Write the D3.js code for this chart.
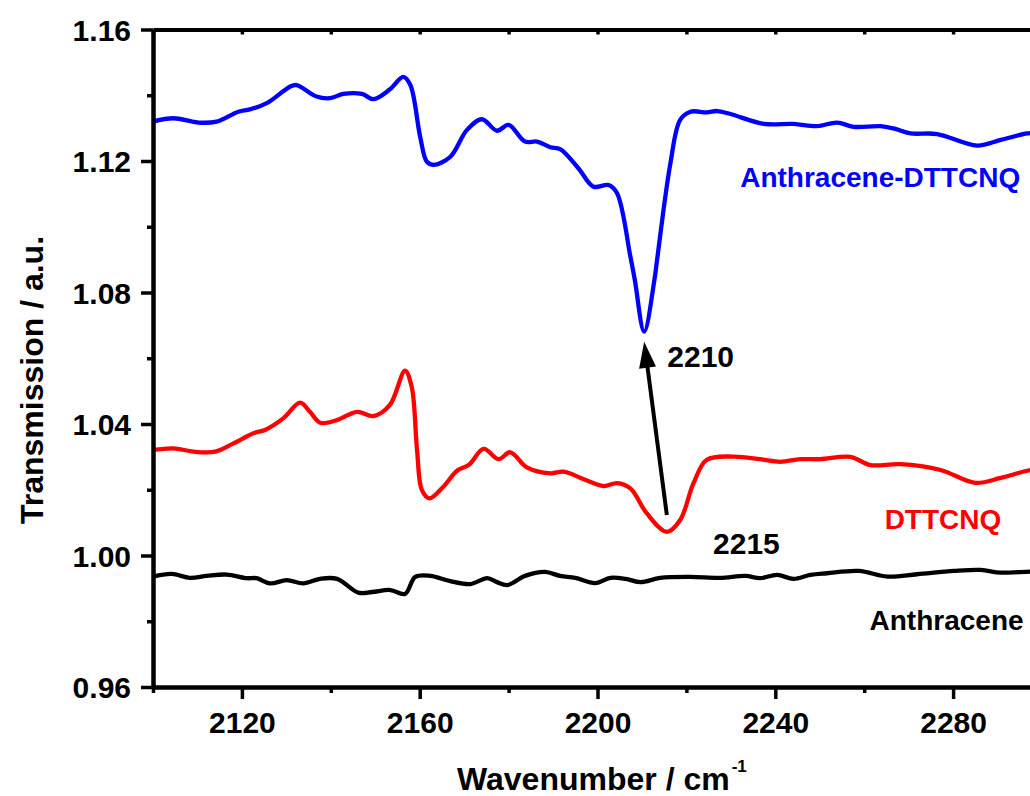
<!DOCTYPE html>
<html>
<head>
<meta charset="utf-8">
<script src="https://cdn.jsdelivr.net/npm/d3@7"></script>
<style>
  body { margin: 0; background: #fff; }
  svg { display: block; font-family: Arial, "Liberation Sans", sans-serif; font-weight: bold; }
</style>
</head>
<body>
<div id="chart"></div>
<script>
const width = 1030;
const height = 796;
const margin = { top: 29.5, left: 153 };
const innerWidth = 889;
const innerHeight = 657.5;

// x tick labels and y tick labels
const xTicks = [2120, 2160, 2200, 2240, 2280];
const xMinor = [2100, 2140, 2180, 2220, 2260, 2300];
const yTicks = [0.96, 1.00, 1.04, 1.08, 1.12, 1.16];
const yMinor = [0.98, 1.02, 1.06, 1.10, 1.14];

// [wavenumber, transmission]
const blueData = [
  [2100.0,1.1320],[2104.6,1.1330],[2110.2,1.1317],[2114.3,1.1320],[2119.2,1.1350],[2121.8,1.1357],
  [2125.6,1.1376],[2130.8,1.1426],[2132.3,1.1431],[2136.8,1.1396],[2139.8,1.1391],[2142.8,1.1404],
  [2147.0,1.1404],[2149.6,1.1388],[2153.3,1.1418],[2156.3,1.1456],[2157.9,1.1431],[2160.1,1.1274],
  [2161.6,1.1198],[2163.1,1.1188],[2166.9,1.1213],[2170.6,1.1294],[2174.0,1.1327],[2177.4,1.1292],
  [2180.0,1.1310],[2183.7,1.1259],[2186.4,1.1259],[2189.4,1.1242],[2191.6,1.1236],[2195.7,1.1178],
  [2199.1,1.1122],[2202.5,1.1127],[2204.4,1.1102],[2207.4,1.0909],[2208.4,1.0838],[2210.5,1.0681],
  [2212.8,1.0838],[2213.4,1.0899],[2216.4,1.1193],[2218.6,1.1325],[2220.9,1.1350],[2224.6,1.1348],
  [2226.9,1.1352],[2229.9,1.1343],[2237.4,1.1313],[2244.1,1.1313],[2249.4,1.1306],[2253.9,1.1317],
  [2257.6,1.1304],[2263.6,1.1306],[2266.6,1.1299],[2270.4,1.1284],[2276.4,1.1282],[2285.4,1.1247],
  [2290.7,1.1264],[2296.7,1.1284],[2300.0,1.1286]
];
const redData = [
  [2100.0,1.0321],[2104.6,1.0326],[2109.1,1.0316],[2114.0,1.0316],[2118.1,1.0341],[2122.6,1.0372],
  [2125.2,1.0382],[2129.3,1.0417],[2133.1,1.0465],[2135.3,1.0437],[2137.6,1.0404],[2141.4,1.0412],
  [2145.9,1.0437],[2149.6,1.0424],[2153.3,1.0458],[2156.7,1.0562],[2158.2,1.0513],[2159.4,1.0321],
  [2160.5,1.0199],[2162.2,1.0174],[2165.3,1.0209],[2168.4,1.0258],[2171.0,1.0275],[2174.4,1.0324],
  [2177.7,1.0293],[2180.4,1.0314],[2184.1,1.0268],[2189.4,1.0250],[2192.4,1.0255],[2196.9,1.0232],
  [2201.4,1.0211],[2204.4,1.0220],[2207.4,1.0204],[2211.1,1.0128],[2215.6,1.0072],[2218.6,1.0108],
  [2221.6,1.0220],[2224.6,1.0291],[2230.6,1.0301],[2236.6,1.0293],[2241.1,1.0285],[2245.6,1.0293],
  [2250.1,1.0293],[2256.9,1.0300],[2261.4,1.0275],[2268.1,1.0278],[2277.2,1.0260],[2285.0,1.0221],
  [2290.7,1.0236],[2297.4,1.0260],[2300.0,1.0262]
];
const blackData = [
  [2100.0,0.9936],[2104.2,0.9944],[2108.3,0.9932],[2112.1,0.9938],[2116.6,0.9942],[2121.1,0.9931],
  [2123.3,0.9931],[2126.3,0.9915],[2130.1,0.9925],[2133.8,0.9915],[2137.6,0.9929],[2141.4,0.9929],
  [2146.2,0.9887],[2149.3,0.9889],[2153.4,0.9895],[2156.7,0.9883],[2159.0,0.9935],[2162.4,0.9938],
  [2166.9,0.9922],[2171.4,0.9913],[2175.2,0.9931],[2177.4,0.9919],[2179.7,0.9910],[2183.7,0.9938],
  [2188.2,0.9950],[2191.6,0.9938],[2195.0,0.9932],[2199.5,0.9916],[2202.9,0.9932],[2206.3,0.9929],
  [2209.7,0.9919],[2214.1,0.9932],[2220.9,0.9935],[2227.6,0.9932],[2233.3,0.9938],[2236.6,0.9931],
  [2240.4,0.9941],[2244.1,0.9929],[2247.9,0.9941],[2251.6,0.9946],[2258.8,0.9953],[2265.2,0.9936],
  [2271.9,0.9943],[2280.2,0.9953],[2286.2,0.9956],[2290.7,0.9948],[2297.4,0.9951],[2300.0,0.9950]
];

const seriesNames = ["Anthracene-DTTCNQ", "DTTCNQ", "Anthracene"];
const seriesColors = ["#0000ff", "#ff0000", "#000000"];
// label anchors in data units [wavenumber, transmission]
const seriesLabelAt = [[2232.1, 1.1121], [2264.6, 1.0080], [2261.2, 0.9773]];

// peak annotations
const peakLabels = ["2210", "2215"];
const peakLabelAt = [[2215.7, 1.0574], [2226.0, 1.0005]];
const arrowFrom = [2215.6, 1.0123];
const arrowTo = [2210.5, 1.0650];

const svg = d3.select("#chart").append("svg")
  .attr("width", width)
  .attr("height", height);

const x = d3.scaleLinear().domain([2100, 2300]).range([margin.left, margin.left + innerWidth]);
const y = d3.scaleLinear().domain([0.96, 1.16]).range([margin.top + innerHeight, margin.top]);

svg.append("clipPath").attr("id", "plotclip")
  .append("rect")
  .attr("x", margin.left).attr("y", margin.top)
  .attr("width", innerWidth).attr("height", innerHeight);

const line = d3.line()
  .x(d => x(d[0]))
  .y(d => y(d[1]))
  .curve(d3.curveCatmullRom.alpha(0.5));

const allSeries = [blueData, redData, blackData];
svg.append("g").attr("clip-path", "url(#plotclip)")
  .selectAll("path")
  .data(allSeries)
  .enter()
  .append("path")
  .attr("d", line)
  .attr("fill", "none")
  .attr("stroke", (d, i) => seriesColors[i])
  .attr("stroke-width", 4.3)
  .attr("stroke-linejoin", "round")
  .attr("stroke-linecap", "round");

// axes
function styleAxis(g) {
  g.attr("font-size", 30).attr("font-family", "Arial, 'Liberation Sans', sans-serif");
  g.select(".domain").attr("stroke", "#000").attr("stroke-width", 4);
  g.selectAll(".tick line").attr("stroke", "#000").attr("stroke-width", 3.5);
  g.selectAll(".tick text").attr("fill", "#000").attr("font-weight", "bold").attr("dy", null);
}
// tick-only axes: drop the empty labels
function noLabels(g) {
  styleAxis(g);
  g.selectAll(".tick text").remove();
}

const bottom = margin.top + innerHeight;

svg.append("g")
  .attr("transform", `translate(0,${bottom})`)
  .call(d3.axisBottom(x).tickValues(xMinor).tickSize(6).tickSizeOuter(0))
  .call(noLabels);

svg.append("g")
  .attr("transform", `translate(0,${bottom})`)
  .call(d3.axisBottom(x).tickValues(xTicks).tickSize(12).tickSizeOuter(0).tickFormat(d3.format("d")))
  .call(styleAxis)
  .call(g => g.selectAll(".tick text").attr("y", 46));

svg.append("g")
  .attr("transform", `translate(0,${margin.top})`)
  .call(d3.axisBottom(x).tickValues(xTicks.concat(xMinor)).tickSize(5).tickSizeOuter(0))
  .call(noLabels);

svg.append("g")
  .attr("transform", `translate(${margin.left},0)`)
  .call(d3.axisLeft(y).tickValues(yMinor).tickSize(6).tickSizeOuter(0))
  .call(noLabels);

svg.append("g")
  .attr("transform", `translate(${margin.left},0)`)
  .call(d3.axisLeft(y).tickValues(yTicks).tickSize(12).tickSizeOuter(0).tickPadding(10).tickFormat(d3.format(".2f")))
  .call(styleAxis)
  .call(g => g.selectAll(".tick text").attr("y", 10.5));

// axis titles
svg.append("text")
  .attr("transform", "translate(43,380) rotate(-90)")
  .attr("text-anchor", "middle")
  .attr("font-size", 32)
  .text("Transmission / a.u.");

const xt = svg.append("text")
  .attr("x", 457)
  .attr("y", 790)
  .attr("font-size", 32);
xt.append("tspan").text("Wavenumber / cm");
xt.append("tspan").attr("font-size", 17).attr("dy", -18).attr("dx", 2).text("-1");

// series labels
svg.append("g").selectAll("text")
  .data(seriesNames)
  .enter()
  .append("text")
  .attr("x", (d, i) => x(seriesLabelAt[i][0]))
  .attr("y", (d, i) => y(seriesLabelAt[i][1]))
  .attr("fill", (d, i) => seriesColors[i])
  .attr("font-size", 28)
  .text(d => d);

// peak labels
svg.append("g").selectAll("text")
  .data(peakLabels)
  .enter()
  .append("text")
  .attr("x", (d, i) => x(peakLabelAt[i][0]))
  .attr("y", (d, i) => y(peakLabelAt[i][1]))
  .attr("font-size", 30)
  .text(d => d);

// arrow
const x0 = x(arrowFrom[0]), y0 = y(arrowFrom[1]);
const x1 = x(arrowTo[0]), y1 = y(arrowTo[1]);
const len = Math.hypot(x1 - x0, y1 - y0);
const ux = (x1 - x0) / len, uy = (y1 - y0) / len;
const headLen = 26, headHalf = 8.5;
const bx = x1 - ux * headLen, by = y1 - uy * headLen;
svg.append("line")
  .attr("x1", x0).attr("y1", y0)
  .attr("x2", bx + ux * 2).attr("y2", by + uy * 2)
  .attr("stroke", "#000").attr("stroke-width", 4);
svg.append("path")
  .attr("d", `M${x1},${y1} L${bx - uy * headHalf},${by + ux * headHalf} L${bx + uy * headHalf},${by - ux * headHalf} Z`)
  .attr("fill", "#000");
</script>
</body>
</html>
